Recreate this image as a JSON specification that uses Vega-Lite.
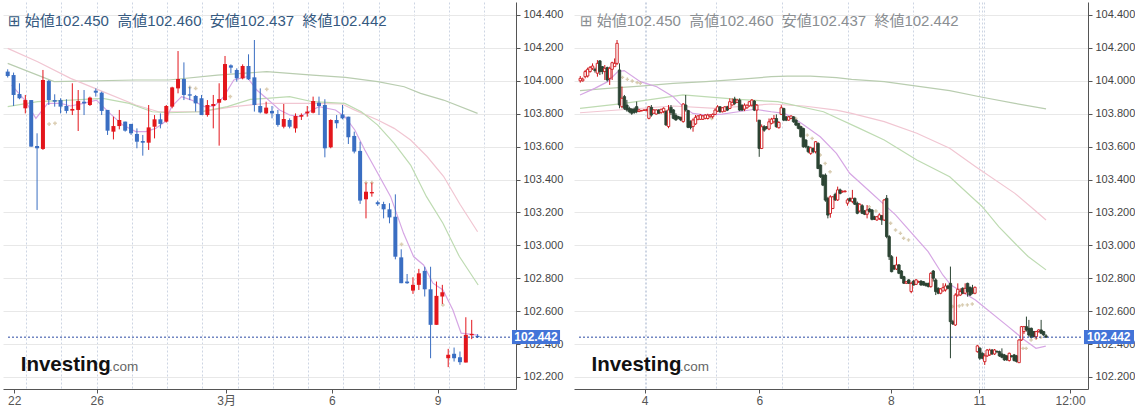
{
  "$schema": "https://vega.github.io/schema/vega-lite/v6.json",
  "background": "white",
  "padding": {"left": 3, "top": 2, "right": 0, "bottom": 0},
  "spacing": 58,
  "bounds": "flush",
  "config": {
    "view": {"stroke": null},
    "font": "Liberation Sans, Noto Sans CJK JP, DejaVu Sans",
    "title": {"fontSize": 15, "fontWeight": "normal", "anchor": "start", "frame": "group", "baseline": "alphabetic", "offset": -27},
    "axis": {"domainColor": "#555555", "tickColor": "#555555", "tickSize": 4, "labelOverlap": false, "labelFlush": false, "grid": true},
    "axisX": {"gridDash": [2, 2], "gridColor": "#cdd5e3", "labelColor": "#555555", "labelFontSize": 12, "labelPadding": 2},
    "axisY": {"gridColor": "#e8e8e8", "labelColor": "#444444", "labelFontSize": 11, "labelPadding": 3}
  },
  "datasets": {
    "left": [
      {"i":0,"o":104.056,"h":104.07,"l":104.02,"c":104.029},
      {"i":1,"o":104.035,"h":104.05,"l":103.847,"c":103.914},
      {"i":2,"o":103.92,"h":103.985,"l":103.888,"c":103.894},
      {"i":3,"o":103.833,"h":103.914,"l":103.802,"c":103.883},
      {"i":4,"o":103.883,"h":103.883,"l":103.6,"c":103.6},
      {"i":5,"o":103.604,"h":103.681,"l":103.215,"c":103.59},
      {"i":6,"o":103.586,"h":104.066,"l":103.58,"c":104.005},
      {"i":7,"o":104.0,"h":104.005,"l":103.853,"c":103.883},
      {"i":8,"o":103.883,"h":103.918,"l":103.843,"c":103.873},
      {"i":9,"o":103.883,"h":103.894,"l":103.802,"c":103.843},
      {"i":10,"o":103.847,"h":103.888,"l":103.802,"c":103.817},
      {"i":11,"o":103.819,"h":103.985,"l":103.792,"c":103.829},
      {"i":12,"o":103.823,"h":103.944,"l":103.695,"c":103.877},
      {"i":13,"o":103.873,"h":103.944,"l":103.792,"c":103.863},
      {"i":14,"o":103.853,"h":103.904,"l":103.847,"c":103.898},
      {"i":15,"o":103.94,"h":103.954,"l":103.904,"c":103.928},
      {"i":16,"o":103.928,"h":103.934,"l":103.792,"c":103.817},
      {"i":17,"o":103.823,"h":103.823,"l":103.671,"c":103.697},
      {"i":18,"o":103.691,"h":103.782,"l":103.644,"c":103.725},
      {"i":19,"o":103.725,"h":103.823,"l":103.705,"c":103.762},
      {"i":20,"o":103.752,"h":103.752,"l":103.691,"c":103.697},
      {"i":21,"o":103.738,"h":103.738,"l":103.671,"c":103.681},
      {"i":22,"o":103.677,"h":103.711,"l":103.59,"c":103.63},
      {"i":23,"o":103.634,"h":103.671,"l":103.545,"c":103.624},
      {"i":24,"o":103.624,"h":103.853,"l":103.58,"c":103.717},
      {"i":25,"o":103.721,"h":103.792,"l":103.65,"c":103.766},
      {"i":26,"o":103.766,"h":103.802,"l":103.711,"c":103.738},
      {"i":27,"o":103.752,"h":103.853,"l":103.746,"c":103.847},
      {"i":28,"o":103.843,"h":103.964,"l":103.833,"c":103.96},
      {"i":29,"o":103.954,"h":104.181,"l":103.924,"c":104.011},
      {"i":30,"o":104.011,"h":104.112,"l":103.883,"c":103.914},
      {"i":31,"o":103.918,"h":103.964,"l":103.883,"c":103.91},
      {"i":32,"o":103.908,"h":103.914,"l":103.813,"c":103.863},
      {"i":33,"o":103.894,"h":103.914,"l":103.792,"c":103.792},
      {"i":34,"o":103.792,"h":103.883,"l":103.782,"c":103.853},
      {"i":35,"o":103.847,"h":103.914,"l":103.711,"c":103.859},
      {"i":36,"o":103.867,"h":103.985,"l":103.606,"c":103.889},
      {"i":37,"o":103.883,"h":104.151,"l":103.879,"c":104.102},
      {"i":38,"o":104.094,"h":104.1,"l":104.046,"c":104.08},
      {"i":39,"o":104.066,"h":104.076,"l":103.995,"c":104.015},
      {"i":40,"o":104.015,"h":104.1,"l":104.009,"c":104.09},
      {"i":41,"o":104.09,"h":104.161,"l":104.005,"c":104.009},
      {"i":42,"o":104.021,"h":104.248,"l":103.813,"c":103.853},
      {"i":43,"o":103.847,"h":103.954,"l":103.802,"c":103.808},
      {"i":44,"o":103.802,"h":103.873,"l":103.798,"c":103.837},
      {"i":45,"o":103.817,"h":103.847,"l":103.772,"c":103.802},
      {"i":46,"o":103.798,"h":103.823,"l":103.721,"c":103.732},
      {"i":47,"o":103.721,"h":103.859,"l":103.711,"c":103.768},
      {"i":48,"o":103.762,"h":103.772,"l":103.711,"c":103.721},
      {"i":49,"o":103.711,"h":103.802,"l":103.685,"c":103.786},
      {"i":50,"o":103.782,"h":103.802,"l":103.762,"c":103.792},
      {"i":51,"o":103.802,"h":103.847,"l":103.782,"c":103.813},
      {"i":52,"o":103.806,"h":103.904,"l":103.802,"c":103.877},
      {"i":53,"o":103.867,"h":103.904,"l":103.792,"c":103.847},
      {"i":54,"o":103.853,"h":103.888,"l":103.535,"c":103.59},
      {"i":55,"o":103.596,"h":103.766,"l":103.59,"c":103.762},
      {"i":56,"o":103.762,"h":103.792,"l":103.711,"c":103.742},
      {"i":57,"o":103.796,"h":103.853,"l":103.766,"c":103.772},
      {"i":58,"o":103.782,"h":103.782,"l":103.616,"c":103.657},
      {"i":59,"o":103.665,"h":103.691,"l":103.559,"c":103.57},
      {"i":60,"o":103.574,"h":103.63,"l":103.252,"c":103.272},
      {"i":61,"o":103.28,"h":103.381,"l":103.164,"c":103.326},
      {"i":62,"o":103.316,"h":103.381,"l":103.296,"c":103.324},
      {"i":63,"o":103.262,"h":103.272,"l":103.24,"c":103.25},
      {"i":64,"o":103.251,"h":103.265,"l":103.164,"c":103.219},
      {"i":65,"o":103.219,"h":103.256,"l":103.134,"c":103.17},
      {"i":66,"o":103.174,"h":103.31,"l":102.915,"c":102.931},
      {"i":67,"o":102.927,"h":102.976,"l":102.77,"c":102.77},
      {"i":68,"o":102.78,"h":102.826,"l":102.766,"c":102.77},
      {"i":69,"o":102.725,"h":102.806,"l":102.705,"c":102.76},
      {"i":70,"o":102.76,"h":102.857,"l":102.729,"c":102.83},
      {"i":71,"o":102.845,"h":102.87,"l":102.689,"c":102.733},
      {"i":72,"o":102.733,"h":102.87,"l":102.314,"c":102.517},
      {"i":73,"o":102.517,"h":102.78,"l":102.517,"c":102.693},
      {"i":74,"o":102.689,"h":102.76,"l":102.644,"c":102.715},
      {"i":75,"o":102.314,"h":102.371,"l":102.26,"c":102.335},
      {"i":76,"o":102.341,"h":102.379,"l":102.294,"c":102.314},
      {"i":77,"o":102.32,"h":102.355,"l":102.274,"c":102.29},
      {"i":78,"o":102.288,"h":102.563,"l":102.288,"c":102.456},
      {"i":79,"o":102.454,"h":102.547,"l":102.43,"c":102.462},
      {"i":80,"o":102.45,"h":102.46,"l":102.437,"c":102.442}
    ],
    "leftMA": [
      {"s":"A","i":0,"v":104.106},{"s":"A","i":7.9,"v":103.995},{"s":"A","i":21.8,"v":104.005},{"s":"A","i":27.4,"v":104.005},{"s":"A","i":35.7,"v":104.035},{"s":"A","i":44.1,"v":104.056},{"s":"A","i":51.9,"v":104.035},{"s":"A","i":57.5,"v":104.021},{"s":"A","i":63.0,"v":103.995},{"s":"A","i":67.5,"v":103.964},{"s":"A","i":70.3,"v":103.924},{"s":"A","i":74.2,"v":103.883},{"s":"A","i":80.0,"v":103.802},
      {"s":"B","i":0,"v":104.197},{"s":"B","i":5.1,"v":104.116},{"s":"B","i":10.7,"v":104.015},{"s":"B","i":16.2,"v":103.934},{"s":"B","i":21.8,"v":103.853},{"s":"B","i":25.7,"v":103.812},{"s":"B","i":32.9,"v":103.812},{"s":"B","i":38.5,"v":103.843},{"s":"B","i":44.1,"v":103.863},{"s":"B","i":51.9,"v":103.863},{"s":"B","i":56.9,"v":103.859},{"s":"B","i":59.1,"v":103.822},{"s":"B","i":63.0,"v":103.762},{"s":"B","i":65.8,"v":103.711},{"s":"B","i":68.6,"v":103.64},{"s":"B","i":71.4,"v":103.54},{"s":"B","i":74.2,"v":103.42},{"s":"B","i":77.0,"v":103.25},{"s":"B","i":80.0,"v":103.083},
      {"s":"C","i":0,"v":103.843},{"s":"C","i":5.1,"v":103.873},{"s":"C","i":10.7,"v":103.883},{"s":"C","i":16.2,"v":103.893},{"s":"C","i":20.7,"v":103.863},{"s":"C","i":24.6,"v":103.812},{"s":"C","i":27.4,"v":103.806},{"s":"C","i":32.9,"v":103.812},{"s":"C","i":37.4,"v":103.843},{"s":"C","i":41.3,"v":103.887},{"s":"C","i":44.1,"v":103.893},{"s":"C","i":48.0,"v":103.904},{"s":"C","i":51.9,"v":103.873},{"s":"C","i":57.4,"v":103.863},{"s":"C","i":60.2,"v":103.812},{"s":"C","i":63.0,"v":103.731},{"s":"C","i":65.8,"v":103.62},{"s":"C","i":68.6,"v":103.488},{"s":"C","i":71.3,"v":103.296},{"s":"C","i":74.1,"v":103.134},{"s":"C","i":76.9,"v":102.932},{"s":"C","i":80.1,"v":102.759},
      {"s":"D","i":0.66,"v":103.974},{"s":"D","i":2.9,"v":103.883},{"s":"D","i":4.8,"v":103.772},{"s":"D","i":6.8,"v":103.863},{"s":"D","i":9.0,"v":103.863},{"s":"D","i":10.7,"v":103.847},{"s":"D","i":12.9,"v":103.863},{"s":"D","i":15.1,"v":103.883},{"s":"D","i":17.4,"v":103.802},{"s":"D","i":19.6,"v":103.731},{"s":"D","i":21.8,"v":103.691},{"s":"D","i":23.5,"v":103.691},{"s":"D","i":25.2,"v":103.711},{"s":"D","i":26.8,"v":103.752},{"s":"D","i":27.9,"v":103.843},{"s":"D","i":29.6,"v":103.904},{"s":"D","i":31.3,"v":103.883},{"s":"D","i":33.5,"v":103.843},{"s":"D","i":35.2,"v":103.847},{"s":"D","i":36.8,"v":103.904},{"s":"D","i":38.5,"v":104.005},{"s":"D","i":40.7,"v":104.025},{"s":"D","i":42.4,"v":103.944},{"s":"D","i":44.1,"v":103.893},{"s":"D","i":46.3,"v":103.823},{"s":"D","i":48.0,"v":103.792},{"s":"D","i":49.6,"v":103.782},{"s":"D","i":53.0,"v":103.843},{"s":"D","i":55.8,"v":103.823},{"s":"D","i":57.4,"v":103.782},{"s":"D","i":59.1,"v":103.701},{"s":"D","i":60.8,"v":103.58},{"s":"D","i":63.0,"v":103.438},{"s":"D","i":65.2,"v":103.296},{"s":"D","i":67.4,"v":103.073},{"s":"D","i":69.1,"v":102.932},{"s":"D","i":70.8,"v":102.881},{"s":"D","i":72.4,"v":102.77},{"s":"D","i":74.1,"v":102.729},{"s":"D","i":75.8,"v":102.607},{"s":"D","i":77.2,"v":102.466},{"s":"D","i":80.1,"v":102.455}
    ],
    "leftSar": [
      {"i":7.05,"v":103.737},{"i":8.05,"v":103.742},{"i":31.0,"v":103.96},{"i":32.0,"v":103.954},{"i":37.9,"v":103.904},{"i":44.1,"v":103.948},{"i":61.0,"v":103.381},{"i":62.0,"v":103.381},{"i":67.05,"v":103.006},{"i":74.1,"v":102.638}
    ],
    "right": [
      {"i":0,"o":104.0,"h":104.029,"l":103.989,"c":104.015},
      {"i":1,"o":104.0,"h":104.02,"l":103.995,"c":104.01},
      {"i":2,"o":104.025,"h":104.066,"l":104.015,"c":104.056},
      {"i":3,"o":104.029,"h":104.08,"l":104.02,"c":104.07},
      {"i":4,"o":104.056,"h":104.09,"l":104.05,"c":104.082},
      {"i":5,"o":104.076,"h":104.106,"l":104.066,"c":104.09},
      {"i":6,"o":104.07,"h":104.08,"l":104.05,"c":104.062},
      {"i":7,"o":104.046,"h":104.126,"l":104.025,"c":104.106},
      {"i":8,"o":104.121,"h":104.126,"l":104.035,"c":104.056},
      {"i":9,"o":104.086,"h":104.09,"l":104.04,"c":104.056},
      {"i":10,"o":104.056,"h":104.096,"l":104.005,"c":104.076},
      {"i":11,"o":104.08,"h":104.086,"l":103.995,"c":104.005},
      {"i":12,"o":104.015,"h":104.086,"l":103.975,"c":104.076},
      {"i":13,"o":104.07,"h":104.116,"l":104.005,"c":104.11},
      {"i":14,"o":104.086,"h":104.136,"l":104.086,"c":104.106},
      {"i":15,"o":104.106,"h":104.248,"l":104.096,"c":104.228},
      {"i":16,"o":104.066,"h":104.106,"l":103.833,"c":103.853},
      {"i":17,"o":103.843,"h":103.965,"l":103.833,"c":103.894},
      {"i":18,"o":103.904,"h":103.914,"l":103.823,"c":103.833},
      {"i":19,"o":103.853,"h":103.884,"l":103.813,"c":103.823},
      {"i":20,"o":103.833,"h":103.843,"l":103.803,"c":103.813},
      {"i":21,"o":103.828,"h":103.833,"l":103.793,"c":103.803},
      {"i":22,"o":103.828,"h":103.838,"l":103.8,"c":103.807},
      {"i":23,"o":103.843,"h":103.874,"l":103.803,"c":103.813},
      {"i":24,"o":103.813,"h":103.828,"l":103.81,"c":103.823},
      {"i":25,"o":103.817,"h":103.823,"l":103.815,"c":103.82},
      {"i":26,"o":103.82,"h":103.826,"l":103.818,"c":103.823},
      {"i":27,"o":103.82,"h":103.83,"l":103.815,"c":103.824},
      {"i":28,"o":103.772,"h":103.847,"l":103.766,"c":103.843},
      {"i":29,"o":103.839,"h":103.853,"l":103.782,"c":103.792},
      {"i":30,"o":103.803,"h":103.828,"l":103.8,"c":103.823},
      {"i":31,"o":103.798,"h":103.826,"l":103.795,"c":103.823},
      {"i":32,"o":103.823,"h":103.826,"l":103.8,"c":103.803},
      {"i":33,"o":103.807,"h":103.83,"l":103.8,"c":103.827},
      {"i":34,"o":103.813,"h":103.839,"l":103.803,"c":103.833},
      {"i":35,"o":103.813,"h":103.823,"l":103.726,"c":103.732},
      {"i":36,"o":103.722,"h":103.853,"l":103.712,"c":103.823},
      {"i":37,"o":103.839,"h":103.853,"l":103.792,"c":103.807},
      {"i":38,"o":103.823,"h":103.828,"l":103.766,"c":103.772},
      {"i":39,"o":103.79,"h":103.803,"l":103.758,"c":103.762},
      {"i":40,"o":103.782,"h":103.787,"l":103.766,"c":103.772},
      {"i":41,"o":103.778,"h":103.782,"l":103.755,"c":103.762},
      {"i":42,"o":103.752,"h":103.864,"l":103.746,"c":103.859},
      {"i":43,"o":103.853,"h":103.914,"l":103.813,"c":103.823},
      {"i":44,"o":103.819,"h":103.823,"l":103.712,"c":103.717},
      {"i":45,"o":103.752,"h":103.76,"l":103.705,"c":103.717},
      {"i":46,"o":103.722,"h":103.772,"l":103.691,"c":103.762},
      {"i":47,"o":103.738,"h":103.792,"l":103.732,"c":103.778},
      {"i":48,"o":103.766,"h":103.79,"l":103.76,"c":103.787},
      {"i":49,"o":103.766,"h":103.797,"l":103.762,"c":103.792},
      {"i":50,"o":103.766,"h":103.792,"l":103.762,"c":103.787},
      {"i":51,"o":103.772,"h":103.797,"l":103.766,"c":103.792},
      {"i":52,"o":103.771,"h":103.8,"l":103.765,"c":103.792},
      {"i":53,"o":103.782,"h":103.797,"l":103.776,"c":103.792},
      {"i":54,"o":103.782,"h":103.802,"l":103.771,"c":103.796},
      {"i":55,"o":103.796,"h":103.832,"l":103.792,"c":103.822},
      {"i":56,"o":103.816,"h":103.852,"l":103.81,"c":103.842},
      {"i":57,"o":103.842,"h":103.846,"l":103.806,"c":103.812},
      {"i":58,"o":103.812,"h":103.84,"l":103.808,"c":103.836},
      {"i":59,"o":103.816,"h":103.846,"l":103.81,"c":103.842},
      {"i":60,"o":103.842,"h":103.848,"l":103.816,"c":103.822},
      {"i":61,"o":103.832,"h":103.893,"l":103.828,"c":103.873},
      {"i":62,"o":103.853,"h":103.893,"l":103.85,"c":103.869},
      {"i":63,"o":103.889,"h":103.903,"l":103.852,"c":103.863},
      {"i":64,"o":103.869,"h":103.89,"l":103.866,"c":103.883},
      {"i":65,"o":103.883,"h":103.893,"l":103.816,"c":103.822},
      {"i":66,"o":103.852,"h":103.856,"l":103.816,"c":103.822},
      {"i":67,"o":103.828,"h":103.863,"l":103.816,"c":103.852},
      {"i":68,"o":103.836,"h":103.856,"l":103.83,"c":103.852},
      {"i":69,"o":103.848,"h":103.877,"l":103.843,"c":103.873},
      {"i":70,"o":103.852,"h":103.889,"l":103.843,"c":103.883},
      {"i":71,"o":103.877,"h":103.883,"l":103.816,"c":103.822},
      {"i":72,"o":103.822,"h":103.859,"l":103.751,"c":103.852},
      {"i":73,"o":103.761,"h":103.761,"l":103.538,"c":103.589},
      {"i":74,"o":103.589,"h":103.735,"l":103.585,"c":103.721},
      {"i":75,"o":103.721,"h":103.731,"l":103.69,"c":103.7},
      {"i":76,"o":103.721,"h":103.725,"l":103.705,"c":103.711},
      {"i":77,"o":103.707,"h":103.771,"l":103.7,"c":103.751},
      {"i":78,"o":103.741,"h":103.775,"l":103.735,"c":103.767},
      {"i":79,"o":103.751,"h":103.792,"l":103.741,"c":103.771},
      {"i":80,"o":103.771,"h":103.796,"l":103.715,"c":103.721},
      {"i":81,"o":103.715,"h":103.755,"l":103.71,"c":103.747},
      {"i":82,"o":103.796,"h":103.852,"l":103.792,"c":103.836},
      {"i":83,"o":103.832,"h":103.836,"l":103.755,"c":103.761},
      {"i":84,"o":103.781,"h":103.785,"l":103.755,"c":103.761},
      {"i":85,"o":103.761,"h":103.786,"l":103.757,"c":103.781},
      {"i":86,"o":103.771,"h":103.79,"l":103.768,"c":103.786},
      {"i":87,"o":103.781,"h":103.785,"l":103.745,"c":103.751},
      {"i":88,"o":103.761,"h":103.765,"l":103.725,"c":103.731},
      {"i":89,"o":103.741,"h":103.745,"l":103.705,"c":103.711},
      {"i":90,"o":103.721,"h":103.725,"l":103.655,"c":103.66},
      {"i":91,"o":103.71,"h":103.715,"l":103.593,"c":103.599},
      {"i":92,"o":103.64,"h":103.645,"l":103.59,"c":103.599},
      {"i":93,"o":103.599,"h":103.605,"l":103.56,"c":103.569},
      {"i":94,"o":103.559,"h":103.6,"l":103.55,"c":103.593},
      {"i":95,"o":103.589,"h":103.595,"l":103.56,"c":103.569},
      {"i":96,"o":103.569,"h":103.634,"l":103.559,"c":103.63},
      {"i":97,"o":103.62,"h":103.626,"l":103.463,"c":103.467},
      {"i":98,"o":103.488,"h":103.492,"l":103.41,"c":103.417},
      {"i":99,"o":103.427,"h":103.432,"l":103.36,"c":103.366},
      {"i":100,"o":103.427,"h":103.437,"l":103.265,"c":103.275},
      {"i":101,"o":103.285,"h":103.295,"l":103.164,"c":103.184},
      {"i":102,"o":103.194,"h":103.305,"l":103.168,"c":103.295},
      {"i":103,"o":103.224,"h":103.3,"l":103.22,"c":103.295},
      {"i":104,"o":103.31,"h":103.32,"l":103.27,"c":103.276},
      {"i":105,"o":103.276,"h":103.357,"l":103.27,"c":103.337},
      {"i":106,"o":103.337,"h":103.345,"l":103.31,"c":103.316},
      {"i":107,"o":103.325,"h":103.333,"l":103.32,"c":103.329},
      {"i":108,"o":103.326,"h":103.334,"l":103.322,"c":103.33},
      {"i":109,"o":103.256,"h":103.286,"l":103.241,"c":103.276},
      {"i":110,"o":103.286,"h":103.29,"l":103.265,"c":103.27},
      {"i":111,"o":103.266,"h":103.337,"l":103.256,"c":103.286},
      {"i":112,"o":103.286,"h":103.29,"l":103.245,"c":103.25},
      {"i":113,"o":103.256,"h":103.266,"l":103.189,"c":103.195},
      {"i":114,"o":103.209,"h":103.256,"l":103.2,"c":103.25},
      {"i":115,"o":103.241,"h":103.25,"l":103.19,"c":103.195},
      {"i":116,"o":103.209,"h":103.215,"l":103.184,"c":103.189},
      {"i":117,"o":103.189,"h":103.245,"l":103.164,"c":103.215},
      {"i":118,"o":103.221,"h":103.226,"l":103.2,"c":103.205},
      {"i":119,"o":103.215,"h":103.221,"l":103.152,"c":103.158},
      {"i":120,"o":103.174,"h":103.18,"l":103.154,"c":103.158},
      {"i":121,"o":103.154,"h":103.178,"l":103.15,"c":103.174},
      {"i":122,"o":103.164,"h":103.195,"l":103.154,"c":103.185},
      {"i":123,"o":103.18,"h":103.185,"l":103.124,"c":103.154},
      {"i":124,"o":103.154,"h":103.282,"l":103.148,"c":103.276},
      {"i":125,"o":103.286,"h":103.306,"l":103.043,"c":103.053},
      {"i":126,"o":103.053,"h":103.063,"l":102.911,"c":102.931},
      {"i":127,"o":102.931,"h":102.941,"l":102.836,"c":102.84},
      {"i":128,"o":102.877,"h":102.882,"l":102.85,"c":102.856},
      {"i":129,"o":102.856,"h":102.931,"l":102.85,"c":102.881},
      {"i":130,"o":102.881,"h":102.886,"l":102.825,"c":102.83},
      {"i":131,"o":102.844,"h":102.85,"l":102.795,"c":102.8},
      {"i":132,"o":102.81,"h":102.815,"l":102.765,"c":102.77},
      {"i":133,"o":102.77,"h":102.783,"l":102.765,"c":102.779},
      {"i":134,"o":102.79,"h":102.795,"l":102.765,"c":102.769},
      {"i":135,"o":102.719,"h":102.779,"l":102.709,"c":102.769},
      {"i":136,"o":102.783,"h":102.79,"l":102.755,"c":102.759},
      {"i":137,"o":102.763,"h":102.795,"l":102.759,"c":102.79},
      {"i":138,"o":102.776,"h":102.785,"l":102.772,"c":102.78},
      {"i":139,"o":102.783,"h":102.788,"l":102.755,"c":102.759},
      {"i":140,"o":102.779,"h":102.783,"l":102.755,"c":102.759},
      {"i":141,"o":102.769,"h":102.773,"l":102.75,"c":102.755},
      {"i":142,"o":102.769,"h":102.773,"l":102.745,"c":102.749},
      {"i":143,"o":102.749,"h":102.836,"l":102.743,"c":102.83},
      {"i":144,"o":102.844,"h":102.85,"l":102.78,"c":102.8},
      {"i":145,"o":102.79,"h":102.8,"l":102.698,"c":102.719},
      {"i":146,"o":102.739,"h":102.745,"l":102.703,"c":102.709},
      {"i":147,"o":102.709,"h":102.74,"l":102.703,"c":102.735},
      {"i":148,"o":102.723,"h":102.77,"l":102.719,"c":102.743},
      {"i":149,"o":102.729,"h":102.769,"l":102.719,"c":102.753},
      {"i":150,"o":102.753,"h":102.76,"l":102.733,"c":102.739},
      {"i":151,"o":102.769,"h":102.871,"l":102.314,"c":102.536},
      {"i":152,"o":102.536,"h":102.547,"l":102.516,"c":102.522},
      {"i":153,"o":102.516,"h":102.709,"l":102.51,"c":102.698},
      {"i":154,"o":102.698,"h":102.769,"l":102.688,"c":102.733},
      {"i":155,"o":102.698,"h":102.739,"l":102.692,"c":102.719},
      {"i":156,"o":102.739,"h":102.745,"l":102.703,"c":102.709},
      {"i":157,"o":102.709,"h":102.769,"l":102.703,"c":102.739},
      {"i":158,"o":102.769,"h":102.773,"l":102.688,"c":102.719},
      {"i":159,"o":102.745,"h":102.75,"l":102.692,"c":102.698},
      {"i":160,"o":102.739,"h":102.76,"l":102.703,"c":102.709},
      {"i":161,"o":102.709,"h":102.75,"l":102.703,"c":102.745},
      {"i":162,"o":102.354,"h":102.395,"l":102.348,"c":102.389},
      {"i":163,"o":102.375,"h":102.381,"l":102.304,"c":102.314},
      {"i":164,"o":102.344,"h":102.35,"l":102.308,"c":102.314},
      {"i":165,"o":102.293,"h":102.344,"l":102.273,"c":102.328},
      {"i":166,"o":102.328,"h":102.37,"l":102.322,"c":102.364},
      {"i":167,"o":102.334,"h":102.372,"l":102.328,"c":102.364},
      {"i":168,"o":102.364,"h":102.37,"l":102.334,"c":102.34},
      {"i":169,"o":102.34,"h":102.37,"l":102.334,"c":102.364},
      {"i":170,"o":102.356,"h":102.36,"l":102.348,"c":102.352},
      {"i":171,"o":102.354,"h":102.36,"l":102.322,"c":102.328},
      {"i":172,"o":102.34,"h":102.374,"l":102.314,"c":102.32},
      {"i":173,"o":102.334,"h":102.34,"l":102.298,"c":102.304},
      {"i":174,"o":102.328,"h":102.334,"l":102.298,"c":102.304},
      {"i":175,"o":102.3,"h":102.348,"l":102.294,"c":102.344},
      {"i":176,"o":102.328,"h":102.334,"l":102.318,"c":102.324},
      {"i":177,"o":102.334,"h":102.34,"l":102.294,"c":102.3},
      {"i":178,"o":102.328,"h":102.334,"l":102.288,"c":102.294},
      {"i":179,"o":102.287,"h":102.429,"l":102.287,"c":102.425},
      {"i":180,"o":102.425,"h":102.51,"l":102.42,"c":102.506},
      {"i":181,"o":102.476,"h":102.51,"l":102.462,"c":102.506},
      {"i":182,"o":102.506,"h":102.567,"l":102.476,"c":102.486},
      {"i":183,"o":102.496,"h":102.547,"l":102.445,"c":102.455},
      {"i":184,"o":102.496,"h":102.5,"l":102.435,"c":102.441},
      {"i":185,"o":102.476,"h":102.48,"l":102.44,"c":102.445},
      {"i":186,"o":102.445,"h":102.48,"l":102.429,"c":102.476},
      {"i":187,"o":102.476,"h":102.49,"l":102.47,"c":102.486},
      {"i":188,"o":102.486,"h":102.547,"l":102.46,"c":102.466},
      {"i":189,"o":102.476,"h":102.48,"l":102.45,"c":102.455},
      {"i":190,"o":102.45,"h":102.46,"l":102.437,"c":102.442}
    ],
    "rightMA": [
      {"s":"R1","i":-0.1,"v":103.94},{"s":"R1","i":11.2,"v":103.954},{"s":"R1","i":24.5,"v":103.968},{"s":"R1","i":37.9,"v":103.985},{"s":"R1","i":51.2,"v":103.995},{"s":"R1","i":64.5,"v":104.009},{"s":"R1","i":77.9,"v":104.025},{"s":"R1","i":84.5,"v":104.029},{"s":"R1","i":93.9,"v":104.029},{"s":"R1","i":104.5,"v":104.019},{"s":"R1","i":110.7,"v":104.009},{"s":"R1","i":124.0,"v":103.995},{"s":"R1","i":137.3,"v":103.968},{"s":"R1","i":150.7,"v":103.94},{"s":"R1","i":164.0,"v":103.9},{"s":"R1","i":177.3,"v":103.863},{"s":"R1","i":190.0,"v":103.829},
      {"s":"R2","i":-0.1,"v":103.806},{"s":"R2","i":37.9,"v":103.847},{"s":"R2","i":55.2,"v":103.833},{"s":"R2","i":77.9,"v":103.859},{"s":"R2","i":91.2,"v":103.847},{"s":"R2","i":104.5,"v":103.822},{"s":"R2","i":110.7,"v":103.802},{"s":"R2","i":124.0,"v":103.752},{"s":"R2","i":137.3,"v":103.681},{"s":"R2","i":150.7,"v":103.59},{"s":"R2","i":161.3,"v":103.478},{"s":"R2","i":177.3,"v":103.316},{"s":"R2","i":185.3,"v":103.215},{"s":"R2","i":190.0,"v":103.154},
      {"s":"R3","i":-0.1,"v":103.833},{"s":"R3","i":17.9,"v":103.863},{"s":"R3","i":41.9,"v":103.914},{"s":"R3","i":64.5,"v":103.887},{"s":"R3","i":80.6,"v":103.873},{"s":"R3","i":99.2,"v":103.812},{"s":"R3","i":113.9,"v":103.711},{"s":"R3","i":124.0,"v":103.64},{"s":"R3","i":137.3,"v":103.519},{"s":"R3","i":150.7,"v":103.417},{"s":"R3","i":164.0,"v":103.235},{"s":"R3","i":170.7,"v":103.114},{"s":"R3","i":177.3,"v":103.013},{"s":"R3","i":182.7,"v":102.932},{"s":"R3","i":190.0,"v":102.851},
      {"s":"R4","i":-0.1,"v":103.914},{"s":"R4","i":5.9,"v":103.954},{"s":"R4","i":11.2,"v":103.995},{"s":"R4","i":15.2,"v":104.055},{"s":"R4","i":17.9,"v":104.062},{"s":"R4","i":24.5,"v":103.995},{"s":"R4","i":31.2,"v":103.964},{"s":"R4","i":37.9,"v":103.904},{"s":"R4","i":41.9,"v":103.843},{"s":"R4","i":45.9,"v":103.802},{"s":"R4","i":51.2,"v":103.792},{"s":"R4","i":57.9,"v":103.798},{"s":"R4","i":64.5,"v":103.812},{"s":"R4","i":71.2,"v":103.827},{"s":"R4","i":77.9,"v":103.812},{"s":"R4","i":83.2,"v":103.802},{"s":"R4","i":87.2,"v":103.772},{"s":"R4","i":91.2,"v":103.731},{"s":"R4","i":97.9,"v":103.66},{"s":"R4","i":104.5,"v":103.559},{"s":"R4","i":109.9,"v":103.438},{"s":"R4","i":115.2,"v":103.367},{"s":"R4","i":128.6,"v":103.185},{"s":"R4","i":141.9,"v":102.962},{"s":"R4","i":147.9,"v":102.82},{"s":"R4","i":151.2,"v":102.759},{"s":"R4","i":161.2,"v":102.668},{"s":"R4","i":174.6,"v":102.506},{"s":"R4","i":181.2,"v":102.425},{"s":"R4","i":185.9,"v":102.374},{"s":"R4","i":189.9,"v":102.388}
    ],
    "rightSar": [
      {"i":17.2,"v":104.021},{"i":19.2,"v":104.009},{"i":21.2,"v":103.999},{"i":23.2,"v":103.989},{"i":24.5,"v":103.985},{"i":53.6,"v":103.771},{"i":87.9,"v":103.771},{"i":89.9,"v":103.721},{"i":92.6,"v":103.67},{"i":94.6,"v":103.65},{"i":97.9,"v":103.549},{"i":99.9,"v":103.498},{"i":101.9,"v":103.447},{"i":117.9,"v":103.235},{"i":120.6,"v":103.209},{"i":126.6,"v":103.134},{"i":128.6,"v":103.093},{"i":130.6,"v":103.073},{"i":131.9,"v":103.043},{"i":133.9,"v":103.033},{"i":151.9,"v":102.628},{"i":154.6,"v":102.632},{"i":155.9,"v":102.638},{"i":157.9,"v":102.638},{"i":159.9,"v":102.644},{"i":180.6,"v":102.374},{"i":181.9,"v":102.374},{"i":183.9,"v":102.425},{"i":185.9,"v":102.435},{"i":187.9,"v":102.441}
    ]
  },
  "hconcat": [
    {
      "width": 513,
      "height": 387,
      "title": {"text": "⊞ 始値102.450\u00a0\u00a0高値102.460\u00a0\u00a0安値102.437\u00a0\u00a0終値102.442", "dx": 5, "color": "#35597f"},
      "layer": [
        {
          "data": {"name": "leftMA"},
          "mark": {"type": "line", "strokeWidth": 1.2, "clip": true},
          "encoding": {
            "x": {"field": "i", "type": "quantitative", "scale": {"domain": [0.05, 85.69], "nice": false, "zero": false}, "axis": {"title": null, "values": [1.1, 3.15, 9.15, 15.15, 21.15, 27.15, 33.15, 37.2, 39.15, 45.15, 51.15, 55.2, 57.15, 63.15, 69.15, 73.2, 75.15, 81.15], "labelExpr": "datum.value == 1.1 ? '22' : datum.value == 15.15 ? '26' : datum.value == 37.2 ? '3月' : datum.value == 55.2 ? '6' : datum.value == 73.2 ? '9' : ''", "gridOpacity": {"condition": {"test": "datum.value == 1.1 || datum.value == 37.2 || datum.value == 55.2 || datum.value == 73.2", "value": 0}, "value": 1}, "tickOpacity": {"condition": {"test": "datum.value == 1.1 || datum.value == 15.15 || datum.value == 37.2 || datum.value == 55.2 || datum.value == 73.2", "value": 1}, "value": 0}}},
            "y": {"field": "v", "type": "quantitative", "scale": {"domain": [102.127, 104.479], "nice": false, "zero": false}, "axis": {"orient": "right", "title": null, "values": [102.2, 102.4, 102.6, 102.8, 103.0, 103.2, 103.4, 103.6, 103.8, 104.0, 104.2, 104.4], "format": ".3f"}},
            "color": {"field": "s", "type": "nominal", "scale": {"domain": ["A", "B", "C", "D"], "range": ["#b9cdb0", "#f1c6d2", "#bedbb2", "#d6a6e4"]}, "legend": null}
          }
        },
        {
          "data": {"name": "leftSar"},
          "mark": {"type": "point", "shape": "cross", "size": 14, "filled": true, "color": "#cdbb95", "clip": true},
          "encoding": {
            "x": {"field": "i", "type": "quantitative", "scale": {"domain": [0.05, 85.69], "nice": false, "zero": false}, "axis": {"title": null, "values": [1.1, 3.15, 9.15, 15.15, 21.15, 27.15, 33.15, 37.2, 39.15, 45.15, 51.15, 55.2, 57.15, 63.15, 69.15, 73.2, 75.15, 81.15], "labelExpr": "datum.value == 1.1 ? '22' : datum.value == 15.15 ? '26' : datum.value == 37.2 ? '3月' : datum.value == 55.2 ? '6' : datum.value == 73.2 ? '9' : ''", "gridOpacity": {"condition": {"test": "datum.value == 1.1 || datum.value == 37.2 || datum.value == 55.2 || datum.value == 73.2", "value": 0}, "value": 1}, "tickOpacity": {"condition": {"test": "datum.value == 1.1 || datum.value == 15.15 || datum.value == 37.2 || datum.value == 55.2 || datum.value == 73.2", "value": 1}, "value": 0}}},
            "y": {"field": "v", "type": "quantitative", "scale": {"domain": [102.127, 104.479], "nice": false, "zero": false}, "axis": {"orient": "right", "title": null, "values": [102.2, 102.4, 102.6, 102.8, 103.0, 103.2, 103.4, 103.6, 103.8, 104.0, 104.2, 104.4], "format": ".3f"}}
          }
        },
        {
          "data": {"name": "left"},
          "mark": {"type": "rule", "strokeWidth": 1, "clip": true},
          "encoding": {
            "x": {"field": "i", "type": "quantitative", "scale": {"domain": [0.05, 85.69], "nice": false, "zero": false}, "axis": {"title": null, "values": [1.1, 3.15, 9.15, 15.15, 21.15, 27.15, 33.15, 37.2, 39.15, 45.15, 51.15, 55.2, 57.15, 63.15, 69.15, 73.2, 75.15, 81.15], "labelExpr": "datum.value == 1.1 ? '22' : datum.value == 15.15 ? '26' : datum.value == 37.2 ? '3月' : datum.value == 55.2 ? '6' : datum.value == 73.2 ? '9' : ''", "gridOpacity": {"condition": {"test": "datum.value == 1.1 || datum.value == 37.2 || datum.value == 55.2 || datum.value == 73.2", "value": 0}, "value": 1}, "tickOpacity": {"condition": {"test": "datum.value == 1.1 || datum.value == 15.15 || datum.value == 37.2 || datum.value == 55.2 || datum.value == 73.2", "value": 1}, "value": 0}}},
            "y": {"field": "l", "type": "quantitative", "scale": {"domain": [102.127, 104.479], "nice": false, "zero": false}, "axis": {"orient": "right", "title": null, "values": [102.2, 102.4, 102.6, 102.8, 103.0, 103.2, 103.4, 103.6, 103.8, 104.0, 104.2, 104.4], "format": ".3f"}},
            "y2": {"field": "h"},
            "color": {"condition": {"test": "datum.c < datum.o", "value": "#3a6ec2"}, "value": "#e3161c"}
          }
        },
        {
          "data": {"name": "left"},
          "mark": {"type": "bar", "width": 4, "clip": true},
          "encoding": {
            "x": {"field": "i", "type": "quantitative", "scale": {"domain": [0.05, 85.69], "nice": false, "zero": false}, "axis": {"title": null, "values": [1.1, 3.15, 9.15, 15.15, 21.15, 27.15, 33.15, 37.2, 39.15, 45.15, 51.15, 55.2, 57.15, 63.15, 69.15, 73.2, 75.15, 81.15], "labelExpr": "datum.value == 1.1 ? '22' : datum.value == 15.15 ? '26' : datum.value == 37.2 ? '3月' : datum.value == 55.2 ? '6' : datum.value == 73.2 ? '9' : ''", "gridOpacity": {"condition": {"test": "datum.value == 1.1 || datum.value == 37.2 || datum.value == 55.2 || datum.value == 73.2", "value": 0}, "value": 1}, "tickOpacity": {"condition": {"test": "datum.value == 1.1 || datum.value == 15.15 || datum.value == 37.2 || datum.value == 55.2 || datum.value == 73.2", "value": 1}, "value": 0}}},
            "y": {"field": "o", "type": "quantitative", "scale": {"domain": [102.127, 104.479], "nice": false, "zero": false}, "axis": {"orient": "right", "title": null, "values": [102.2, 102.4, 102.6, 102.8, 103.0, 103.2, 103.4, 103.6, 103.8, 104.0, 104.2, 104.4], "format": ".3f"}},
            "y2": {"field": "c"},
            "color": {"condition": {"test": "datum.c < datum.o", "value": "#3a6ec2"}, "value": "#e3161c"}
          }
        },
        {
          "data": {"values": [{}]},
          "mark": {"type": "rule", "strokeDash": [2, 2], "strokeWidth": 1, "color": "#2b4aa3"},
          "encoding": {
            "x": {"datum": 0.05, "scale": {"domain": [0.05, 85.69], "nice": false, "zero": false}, "axis": {"title": null, "values": [1.1, 3.15, 9.15, 15.15, 21.15, 27.15, 33.15, 37.2, 39.15, 45.15, 51.15, 55.2, 57.15, 63.15, 69.15, 73.2, 75.15, 81.15], "labelExpr": "datum.value == 1.1 ? '22' : datum.value == 15.15 ? '26' : datum.value == 37.2 ? '3月' : datum.value == 55.2 ? '6' : datum.value == 73.2 ? '9' : ''", "gridOpacity": {"condition": {"test": "datum.value == 1.1 || datum.value == 37.2 || datum.value == 55.2 || datum.value == 73.2", "value": 0}, "value": 1}, "tickOpacity": {"condition": {"test": "datum.value == 1.1 || datum.value == 15.15 || datum.value == 37.2 || datum.value == 55.2 || datum.value == 73.2", "value": 1}, "value": 0}}},
            "x2": {"datum": 85.69},
            "y": {"datum": 102.442, "scale": {"domain": [102.127, 104.479], "nice": false, "zero": false}, "axis": {"orient": "right", "title": null, "values": [102.2, 102.4, 102.6, 102.8, 103.0, 103.2, 103.4, 103.6, 103.8, 104.0, 104.2, 104.4], "format": ".3f"}}
          }
        },
        {
          "data": {"values": [{}]},
          "mark": {"type": "rect", "color": "#4374d8", "clip": false},
          "encoding": {
            "x": {"datum": 85.86, "scale": {"domain": [0.05, 85.69], "nice": false, "zero": false}, "axis": {"title": null, "values": [1.1, 3.15, 9.15, 15.15, 21.15, 27.15, 33.15, 37.2, 39.15, 45.15, 51.15, 55.2, 57.15, 63.15, 69.15, 73.2, 75.15, 81.15], "labelExpr": "datum.value == 1.1 ? '22' : datum.value == 15.15 ? '26' : datum.value == 37.2 ? '3月' : datum.value == 55.2 ? '6' : datum.value == 73.2 ? '9' : ''", "gridOpacity": {"condition": {"test": "datum.value == 1.1 || datum.value == 37.2 || datum.value == 55.2 || datum.value == 73.2", "value": 0}, "value": 1}, "tickOpacity": {"condition": {"test": "datum.value == 1.1 || datum.value == 15.15 || datum.value == 37.2 || datum.value == 55.2 || datum.value == 73.2", "value": 1}, "value": 0}}},
            "x2": {"datum": 94.04},
            "y": {"datum": 102.486, "scale": {"domain": [102.127, 104.479], "nice": false, "zero": false}, "axis": {"orient": "right", "title": null, "values": [102.2, 102.4, 102.6, 102.8, 103.0, 103.2, 103.4, 103.6, 103.8, 104.0, 104.2, 104.4], "format": ".3f"}},
            "y2": {"datum": 102.401}
          }
        },
        {
          "data": {"values": [{}]},
          "mark": {"type": "text", "color": "white", "fontWeight": "bold", "fontSize": 12, "baseline": "middle", "clip": false},
          "encoding": {
            "x": {"datum": 89.95, "scale": {"domain": [0.05, 85.69], "nice": false, "zero": false}, "axis": {"title": null, "values": [1.1, 3.15, 9.15, 15.15, 21.15, 27.15, 33.15, 37.2, 39.15, 45.15, 51.15, 55.2, 57.15, 63.15, 69.15, 73.2, 75.15, 81.15], "labelExpr": "datum.value == 1.1 ? '22' : datum.value == 15.15 ? '26' : datum.value == 37.2 ? '3月' : datum.value == 55.2 ? '6' : datum.value == 73.2 ? '9' : ''", "gridOpacity": {"condition": {"test": "datum.value == 1.1 || datum.value == 37.2 || datum.value == 55.2 || datum.value == 73.2", "value": 0}, "value": 1}, "tickOpacity": {"condition": {"test": "datum.value == 1.1 || datum.value == 15.15 || datum.value == 37.2 || datum.value == 55.2 || datum.value == 73.2", "value": 1}, "value": 0}}},
            "y": {"datum": 102.442, "scale": {"domain": [102.127, 104.479], "nice": false, "zero": false}, "axis": {"orient": "right", "title": null, "values": [102.2, 102.4, 102.6, 102.8, 103.0, 103.2, 103.4, 103.6, 103.8, 104.0, 104.2, 104.4], "format": ".3f"}},
            "text": {"value": "102.442"}
          }
        },
        {
          "data": {"values": [{}]},
          "mark": {"type": "text", "align": "left", "baseline": "alphabetic", "fontWeight": "bold", "fontSize": 20.5, "color": "#111111"},
          "encoding": {
            "x": {"datum": 2.22, "scale": {"domain": [0.05, 85.69], "nice": false, "zero": false}, "axis": {"title": null, "values": [1.1, 3.15, 9.15, 15.15, 21.15, 27.15, 33.15, 37.2, 39.15, 45.15, 51.15, 55.2, 57.15, 63.15, 69.15, 73.2, 75.15, 81.15], "labelExpr": "datum.value == 1.1 ? '22' : datum.value == 15.15 ? '26' : datum.value == 37.2 ? '3月' : datum.value == 55.2 ? '6' : datum.value == 73.2 ? '9' : ''", "gridOpacity": {"condition": {"test": "datum.value == 1.1 || datum.value == 37.2 || datum.value == 55.2 || datum.value == 73.2", "value": 0}, "value": 1}, "tickOpacity": {"condition": {"test": "datum.value == 1.1 || datum.value == 15.15 || datum.value == 37.2 || datum.value == 55.2 || datum.value == 73.2", "value": 1}, "value": 0}}},
            "y": {"datum": 102.238, "scale": {"domain": [102.127, 104.479], "nice": false, "zero": false}, "axis": {"orient": "right", "title": null, "values": [102.2, 102.4, 102.6, 102.8, 103.0, 103.2, 103.4, 103.6, 103.8, 104.0, 104.2, 104.4], "format": ".3f"}},
            "text": {"value": "Investing"}
          }
        },
        {
          "data": {"values": [{}]},
          "mark": {"type": "text", "align": "left", "baseline": "alphabetic", "fontSize": 13.5, "color": "#666666"},
          "encoding": {
            "x": {"datum": 17.25, "scale": {"domain": [0.05, 85.69], "nice": false, "zero": false}, "axis": {"title": null, "values": [1.1, 3.15, 9.15, 15.15, 21.15, 27.15, 33.15, 37.2, 39.15, 45.15, 51.15, 55.2, 57.15, 63.15, 69.15, 73.2, 75.15, 81.15], "labelExpr": "datum.value == 1.1 ? '22' : datum.value == 15.15 ? '26' : datum.value == 37.2 ? '3月' : datum.value == 55.2 ? '6' : datum.value == 73.2 ? '9' : ''", "gridOpacity": {"condition": {"test": "datum.value == 1.1 || datum.value == 37.2 || datum.value == 55.2 || datum.value == 73.2", "value": 0}, "value": 1}, "tickOpacity": {"condition": {"test": "datum.value == 1.1 || datum.value == 15.15 || datum.value == 37.2 || datum.value == 55.2 || datum.value == 73.2", "value": 1}, "value": 0}}},
            "y": {"datum": 102.238, "scale": {"domain": [102.127, 104.479], "nice": false, "zero": false}, "axis": {"orient": "right", "title": null, "values": [102.2, 102.4, 102.6, 102.8, 103.0, 103.2, 103.4, 103.6, 103.8, 104.0, 104.2, 104.4], "format": ".3f"}},
            "text": {"value": ".com"}
          }
        }
      ]
    },
    {
      "width": 514,
      "height": 387,
      "title": {"text": "⊞ 始値102.450\u00a0\u00a0高値102.460\u00a0\u00a0安値102.437\u00a0\u00a0終値102.442", "dx": 6, "color": "#8a8e92"},
      "layer": [
        {
          "data": {"name": "rightMA"},
          "mark": {"type": "line", "strokeWidth": 1.2, "clip": true},
          "encoding": {
            "x": {"field": "i", "type": "quantitative", "scale": {"domain": [-0.52, 205.08], "nice": false, "zero": false}, "axis": {"title": null, "values": [26.2, 27.0, 55.2, 73.0, 82.2, 109.1, 126.7, 135.9, 162.7, 163.8, 164.7, 199.8], "labelExpr": "datum.value == 26.2 ? '4' : datum.value == 73 ? '6' : datum.value == 126.7 ? '8' : datum.value == 162.7 ? '11' : datum.value == 199.8 ? '12:00' : ''", "gridOpacity": {"condition": {"test": "datum.value == 73 || datum.value == 126.7 || datum.value == 199.8", "value": 0}, "value": 1}, "tickOpacity": {"condition": {"test": "datum.value == 26.2 || datum.value == 73 || datum.value == 126.7 || datum.value == 162.7 || datum.value == 199.8", "value": 1}, "value": 0}}},
            "y": {"field": "v", "type": "quantitative", "scale": {"domain": [102.127, 104.479], "nice": false, "zero": false}, "axis": {"orient": "right", "title": null, "values": [102.2, 102.4, 102.6, 102.8, 103.0, 103.2, 103.4, 103.6, 103.8, 104.0, 104.2, 104.4], "format": ".3f"}},
            "color": {"field": "s", "type": "nominal", "scale": {"domain": ["R1", "R2", "R3", "R4"], "range": ["#aabca3", "#f0c4cc", "#b8d3ae", "#e58ae5"]}, "legend": null}
          }
        },
        {
          "data": {"name": "rightSar"},
          "mark": {"type": "point", "shape": "cross", "size": 12, "filled": true, "color": "#c8b690", "clip": true},
          "encoding": {
            "x": {"field": "i", "type": "quantitative", "scale": {"domain": [-0.52, 205.08], "nice": false, "zero": false}, "axis": {"title": null, "values": [26.2, 27.0, 55.2, 73.0, 82.2, 109.1, 126.7, 135.9, 162.7, 163.8, 164.7, 199.8], "labelExpr": "datum.value == 26.2 ? '4' : datum.value == 73 ? '6' : datum.value == 126.7 ? '8' : datum.value == 162.7 ? '11' : datum.value == 199.8 ? '12:00' : ''", "gridOpacity": {"condition": {"test": "datum.value == 73 || datum.value == 126.7 || datum.value == 199.8", "value": 0}, "value": 1}, "tickOpacity": {"condition": {"test": "datum.value == 26.2 || datum.value == 73 || datum.value == 126.7 || datum.value == 162.7 || datum.value == 199.8", "value": 1}, "value": 0}}},
            "y": {"field": "v", "type": "quantitative", "scale": {"domain": [102.127, 104.479], "nice": false, "zero": false}, "axis": {"orient": "right", "title": null, "values": [102.2, 102.4, 102.6, 102.8, 103.0, 103.2, 103.4, 103.6, 103.8, 104.0, 104.2, 104.4], "format": ".3f"}}
          }
        },
        {
          "data": {"name": "right"},
          "mark": {"type": "rule", "strokeWidth": 1, "clip": true},
          "encoding": {
            "x": {"field": "i", "type": "quantitative", "scale": {"domain": [-0.52, 205.08], "nice": false, "zero": false}, "axis": {"title": null, "values": [26.2, 27.0, 55.2, 73.0, 82.2, 109.1, 126.7, 135.9, 162.7, 163.8, 164.7, 199.8], "labelExpr": "datum.value == 26.2 ? '4' : datum.value == 73 ? '6' : datum.value == 126.7 ? '8' : datum.value == 162.7 ? '11' : datum.value == 199.8 ? '12:00' : ''", "gridOpacity": {"condition": {"test": "datum.value == 73 || datum.value == 126.7 || datum.value == 199.8", "value": 0}, "value": 1}, "tickOpacity": {"condition": {"test": "datum.value == 26.2 || datum.value == 73 || datum.value == 126.7 || datum.value == 162.7 || datum.value == 199.8", "value": 1}, "value": 0}}},
            "y": {"field": "l", "type": "quantitative", "scale": {"domain": [102.127, 104.479], "nice": false, "zero": false}, "axis": {"orient": "right", "title": null, "values": [102.2, 102.4, 102.6, 102.8, 103.0, 103.2, 103.4, 103.6, 103.8, 104.0, 104.2, 104.4], "format": ".3f"}},
            "y2": {"field": "h"},
            "color": {"condition": {"test": "datum.c < datum.o", "value": "#2b4433"}, "value": "#d0161b"}
          }
        },
        {
          "data": {"name": "right"},
          "mark": {"type": "bar", "width": 2.4, "strokeWidth": 0.9, "clip": true},
          "encoding": {
            "x": {"field": "i", "type": "quantitative", "scale": {"domain": [-0.52, 205.08], "nice": false, "zero": false}, "axis": {"title": null, "values": [26.2, 27.0, 55.2, 73.0, 82.2, 109.1, 126.7, 135.9, 162.7, 163.8, 164.7, 199.8], "labelExpr": "datum.value == 26.2 ? '4' : datum.value == 73 ? '6' : datum.value == 126.7 ? '8' : datum.value == 162.7 ? '11' : datum.value == 199.8 ? '12:00' : ''", "gridOpacity": {"condition": {"test": "datum.value == 73 || datum.value == 126.7 || datum.value == 199.8", "value": 0}, "value": 1}, "tickOpacity": {"condition": {"test": "datum.value == 26.2 || datum.value == 73 || datum.value == 126.7 || datum.value == 162.7 || datum.value == 199.8", "value": 1}, "value": 0}}},
            "y": {"field": "o", "type": "quantitative", "scale": {"domain": [102.127, 104.479], "nice": false, "zero": false}, "axis": {"orient": "right", "title": null, "values": [102.2, 102.4, 102.6, 102.8, 103.0, 103.2, 103.4, 103.6, 103.8, 104.0, 104.2, 104.4], "format": ".3f"}},
            "y2": {"field": "c"},
            "fill": {"condition": {"test": "datum.c < datum.o", "value": "#2b4433"}, "value": "#ffffff"},
            "stroke": {"condition": {"test": "datum.c < datum.o", "value": "#2b4433"}, "value": "#d0161b"}
          }
        },
        {
          "data": {"values": [{}]},
          "mark": {"type": "rule", "strokeDash": [2, 2], "strokeWidth": 1, "color": "#2b4aa3"},
          "encoding": {
            "x": {"datum": -0.52, "scale": {"domain": [-0.52, 205.08], "nice": false, "zero": false}, "axis": {"title": null, "values": [26.2, 27.0, 55.2, 73.0, 82.2, 109.1, 126.7, 135.9, 162.7, 163.8, 164.7, 199.8], "labelExpr": "datum.value == 26.2 ? '4' : datum.value == 73 ? '6' : datum.value == 126.7 ? '8' : datum.value == 162.7 ? '11' : datum.value == 199.8 ? '12:00' : ''", "gridOpacity": {"condition": {"test": "datum.value == 73 || datum.value == 126.7 || datum.value == 199.8", "value": 0}, "value": 1}, "tickOpacity": {"condition": {"test": "datum.value == 26.2 || datum.value == 73 || datum.value == 126.7 || datum.value == 162.7 || datum.value == 199.8", "value": 1}, "value": 0}}},
            "x2": {"datum": 205.08},
            "y": {"datum": 102.442, "scale": {"domain": [102.127, 104.479], "nice": false, "zero": false}, "axis": {"orient": "right", "title": null, "values": [102.2, 102.4, 102.6, 102.8, 103.0, 103.2, 103.4, 103.6, 103.8, 104.0, 104.2, 104.4], "format": ".3f"}}
          }
        },
        {
          "data": {"values": [{}]},
          "mark": {"type": "rect", "color": "#4374d8", "clip": false},
          "encoding": {
            "x": {"datum": 205.48, "scale": {"domain": [-0.52, 205.08], "nice": false, "zero": false}, "axis": {"title": null, "values": [26.2, 27.0, 55.2, 73.0, 82.2, 109.1, 126.7, 135.9, 162.7, 163.8, 164.7, 199.8], "labelExpr": "datum.value == 26.2 ? '4' : datum.value == 73 ? '6' : datum.value == 126.7 ? '8' : datum.value == 162.7 ? '11' : datum.value == 199.8 ? '12:00' : ''", "gridOpacity": {"condition": {"test": "datum.value == 73 || datum.value == 126.7 || datum.value == 199.8", "value": 0}, "value": 1}, "tickOpacity": {"condition": {"test": "datum.value == 26.2 || datum.value == 73 || datum.value == 126.7 || datum.value == 162.7 || datum.value == 199.8", "value": 1}, "value": 0}}},
            "x2": {"datum": 225.88},
            "y": {"datum": 102.486, "scale": {"domain": [102.127, 104.479], "nice": false, "zero": false}, "axis": {"orient": "right", "title": null, "values": [102.2, 102.4, 102.6, 102.8, 103.0, 103.2, 103.4, 103.6, 103.8, 104.0, 104.2, 104.4], "format": ".3f"}},
            "y2": {"datum": 102.401}
          }
        },
        {
          "data": {"values": [{}]},
          "mark": {"type": "text", "color": "white", "fontWeight": "bold", "fontSize": 12, "baseline": "middle", "clip": false},
          "encoding": {
            "x": {"datum": 215.6, "scale": {"domain": [-0.52, 205.08], "nice": false, "zero": false}, "axis": {"title": null, "values": [26.2, 27.0, 55.2, 73.0, 82.2, 109.1, 126.7, 135.9, 162.7, 163.8, 164.7, 199.8], "labelExpr": "datum.value == 26.2 ? '4' : datum.value == 73 ? '6' : datum.value == 126.7 ? '8' : datum.value == 162.7 ? '11' : datum.value == 199.8 ? '12:00' : ''", "gridOpacity": {"condition": {"test": "datum.value == 73 || datum.value == 126.7 || datum.value == 199.8", "value": 0}, "value": 1}, "tickOpacity": {"condition": {"test": "datum.value == 26.2 || datum.value == 73 || datum.value == 126.7 || datum.value == 162.7 || datum.value == 199.8", "value": 1}, "value": 0}}},
            "y": {"datum": 102.442, "scale": {"domain": [102.127, 104.479], "nice": false, "zero": false}, "axis": {"orient": "right", "title": null, "values": [102.2, 102.4, 102.6, 102.8, 103.0, 103.2, 103.4, 103.6, 103.8, 104.0, 104.2, 104.4], "format": ".3f"}},
            "text": {"value": "102.442"}
          }
        },
        {
          "data": {"values": [{}]},
          "mark": {"type": "text", "align": "left", "baseline": "alphabetic", "fontWeight": "bold", "fontSize": 20.5, "color": "#111111"},
          "encoding": {
            "x": {"datum": 4.56, "scale": {"domain": [-0.52, 205.08], "nice": false, "zero": false}, "axis": {"title": null, "values": [26.2, 27.0, 55.2, 73.0, 82.2, 109.1, 126.7, 135.9, 162.7, 163.8, 164.7, 199.8], "labelExpr": "datum.value == 26.2 ? '4' : datum.value == 73 ? '6' : datum.value == 126.7 ? '8' : datum.value == 162.7 ? '11' : datum.value == 199.8 ? '12:00' : ''", "gridOpacity": {"condition": {"test": "datum.value == 73 || datum.value == 126.7 || datum.value == 199.8", "value": 0}, "value": 1}, "tickOpacity": {"condition": {"test": "datum.value == 26.2 || datum.value == 73 || datum.value == 126.7 || datum.value == 162.7 || datum.value == 199.8", "value": 1}, "value": 0}}},
            "y": {"datum": 102.238, "scale": {"domain": [102.127, 104.479], "nice": false, "zero": false}, "axis": {"orient": "right", "title": null, "values": [102.2, 102.4, 102.6, 102.8, 103.0, 103.2, 103.4, 103.6, 103.8, 104.0, 104.2, 104.4], "format": ".3f"}},
            "text": {"value": "Investing"}
          }
        },
        {
          "data": {"values": [{}]},
          "mark": {"type": "text", "align": "left", "baseline": "alphabetic", "fontSize": 13.5, "color": "#666666"},
          "encoding": {
            "x": {"datum": 40.56, "scale": {"domain": [-0.52, 205.08], "nice": false, "zero": false}, "axis": {"title": null, "values": [26.2, 27.0, 55.2, 73.0, 82.2, 109.1, 126.7, 135.9, 162.7, 163.8, 164.7, 199.8], "labelExpr": "datum.value == 26.2 ? '4' : datum.value == 73 ? '6' : datum.value == 126.7 ? '8' : datum.value == 162.7 ? '11' : datum.value == 199.8 ? '12:00' : ''", "gridOpacity": {"condition": {"test": "datum.value == 73 || datum.value == 126.7 || datum.value == 199.8", "value": 0}, "value": 1}, "tickOpacity": {"condition": {"test": "datum.value == 26.2 || datum.value == 73 || datum.value == 126.7 || datum.value == 162.7 || datum.value == 199.8", "value": 1}, "value": 0}}},
            "y": {"datum": 102.238, "scale": {"domain": [102.127, 104.479], "nice": false, "zero": false}, "axis": {"orient": "right", "title": null, "values": [102.2, 102.4, 102.6, 102.8, 103.0, 103.2, 103.4, 103.6, 103.8, 104.0, 104.2, 104.4], "format": ".3f"}},
            "text": {"value": ".com"}
          }
        }
      ]
    }
  ]
}
